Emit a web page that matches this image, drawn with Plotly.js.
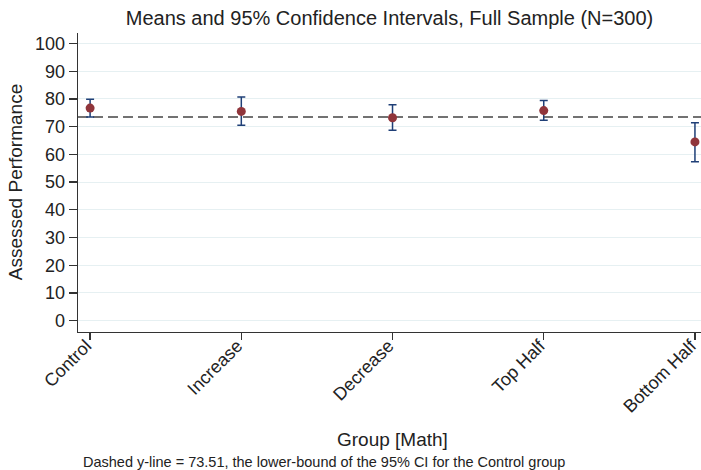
<!DOCTYPE html>
<html>
<head>
<meta charset="utf-8">
<script src="https://cdn.plot.ly/plotly-3.0.1.min.js"></script>
<style>html,body{margin:0;padding:0;background:#fff;}#chart{width:701px;height:470px;}</style>
</head>
<body>
<div id="chart"></div>
<script>
const groups = ["Control", "Increase", "Decrease", "Top Half", "Bottom Half"];
const means = [76.7, 75.5, 73.2, 75.8, 64.5];
const upper = [79.9, 80.7, 77.9, 79.4, 71.4];
const lower = [73.51, 70.5, 68.7, 72.3, 57.3];
const refLine = 73.51;
const yTicks = [0, 10, 20, 30, 40, 50, 60, 70, 80, 90, 100];

const xIdx = groups.map((g, i) => i);
const trace = {
  type: 'scatter',
  mode: 'markers',
  x: xIdx,
  y: means,
  marker: {color: '#90353b', size: 9},
  error_y: {
    type: 'data',
    symmetric: false,
    array: upper.map((u, i) => u - means[i]),
    arrayminus: means.map((m, i) => m - lower[i]),
    color: '#1f3f77',
    thickness: 1.5,
    width: 4
  },
  hoverinfo: 'skip',
  showlegend: false,
  cliponaxis: false
};

const font = "'Liberation Sans', Arial, sans-serif";
const layout = {
  width: 701, height: 470,
  margin: {l: 78, r: 0, t: 33, b: 138},
  paper_bgcolor: '#ffffff',
  plot_bgcolor: '#ffffff',
  font: {family: font, color: '#222'},
  title: {text: 'Means and 95% Confidence Intervals, Full Sample (N=300)', font: {size: 20, color: '#222'}, xref: 'paper', x: 0.5, xanchor: 'center', y: 0.962, yanchor: 'middle'},
  xaxis: {
    range: [-0.08, 4.04],
    tickmode: 'array', tickvals: xIdx, ticktext: groups,
    tickangle: -45,
    ticklabeloverflow: 'allow',
    ticklabelstandoff: -12,
    ticklabelshift: -4,
    ticks: 'outside', ticklen: 7, tickwidth: 1.3, tickcolor: '#333',
    showline: true, linecolor: '#333', linewidth: 1.3,
    showgrid: false, zeroline: false,
    tickfont: {size: 18, color: '#222'}
  },
  yaxis: {
    range: [-4.1, 103.8],
    tickmode: 'array', tickvals: yTicks,
    ticks: 'outside', ticklen: 8, tickwidth: 1.3, tickcolor: '#333',
    showline: true, linecolor: '#333', linewidth: 1.3,
    showgrid: true, gridcolor: '#e6f0f2', gridwidth: 1,
    zeroline: false,
    tickfont: {size: 18, color: '#222'}
  },
  shapes: [{
    type: 'line', xref: 'paper', x0: 0, x1: 1, yref: 'y', y0: refLine, y1: refLine,
    line: {color: '#444', width: 1.5, dash: '10px,5px'}, layer: 'below'
  }],
  annotations: [
    {text: 'Assessed Performance', xref: 'paper', yref: 'paper', x: -0.1, y: 0.5, xanchor: 'center', yanchor: 'middle', textangle: -90, showarrow: false, font: {size: 19, color: '#222'}},
    {text: 'Group [Math]', xref: 'paper', yref: 'paper', x: 0.505, y: -0.361, xanchor: 'center', yanchor: 'middle', showarrow: false, font: {size: 19, color: '#222'}},
    {text: 'Dashed y-line = 73.51, the lower-bound of the 95% CI for the Control group', xref: 'paper', yref: 'paper', x: 0.005, y: -0.435, xanchor: 'left', yanchor: 'middle', showarrow: false, font: {size: 14.5, color: '#222'}}
  ]
};

Plotly.newPlot('chart', [trace], layout, {displayModeBar: false, staticPlot: true});
</script>
</body>
</html>
